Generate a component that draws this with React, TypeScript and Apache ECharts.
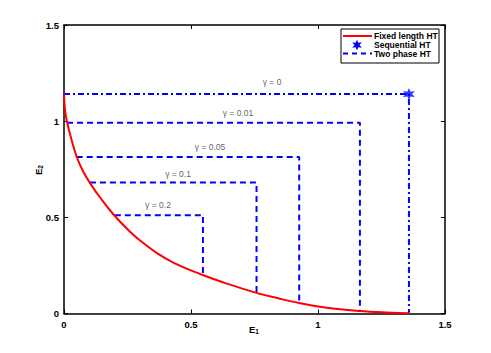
import React, { useEffect, useRef } from "react";
import * as echarts from "echarts";

// Fixed length HT curve (E1, E2)
const curveX = [0, 0.004, 0.013, 0.03, 0.05, 0.076, 0.109, 0.142, 0.194, 0.26, 0.299, 0.365, 0.43, 0.546, 0.627, 0.761, 0.85, 0.926, 1.034, 1.163, 1.27, 1.362];
const curveY = [1.141, 1.058, 0.989, 0.902, 0.815, 0.737, 0.665, 0.603, 0.516, 0.425, 0.38, 0.315, 0.265, 0.2, 0.162, 0.106, 0.077, 0.055, 0.03, 0.013, 0.005, 0.001];

// Two phase HT rectangles for each gamma
const gammaLabels = ["γ = 0", "γ = 0.01", "γ = 0.05", "γ = 0.1", "γ = 0.2"];
const rectY = [1.141, 0.992, 0.814, 0.681, 0.511];
const rectX0 = [0, 0.012, 0.05, 0.102, 0.2];
const rectX1 = [1.358, 1.165, 0.926, 0.758, 0.547];
const rectYEnd = [0, 0.013, 0.055, 0.106, 0.2];

// label anchor positions (data coords)
const labelX = [0.819, 0.685, 0.575, 0.449, 0.37];
const labelY = [1.202, 1.04, 0.864, 0.724, 0.564];

const legendNames = ["Fixed length HT", "Sequential HT", "Two phase HT"];

const FONT = "Liberation Sans, Arial, Helvetica, sans-serif";

function starPoints(cx: number, cy: number, ro: number, ri: number, n: number) {
  const pts: number[][] = [];
  for (let i = 0; i < n * 2; i++) {
    const r = i % 2 === 0 ? ro : ri;
    const a = (Math.PI * i) / n - Math.PI / 2;
    pts.push([cx + r * Math.cos(a), cy + r * Math.sin(a)]);
  }
  return pts;
}

function starPath() {
  const pts = starPoints(10, 10, 10, 4.5, 6);
  return "path://M" + pts.map((p) => p[0].toFixed(2) + "," + p[1].toFixed(2)).join("L") + "Z";
}

export default function App() {
  const ref = useRef<HTMLDivElement>(null);
  useEffect(() => {
    if (!ref.current) return;
    const chart = echarts.init(ref.current, null, { renderer: "svg" });
    const axisCommon = {
      type: "value" as const,
      min: 0,
      max: 1.5,
      interval: 0.5,
      splitLine: { show: false },
      axisLine: { show: true, onZero: false, lineStyle: { color: "#000", width: 1.5 } },
      axisTick: { show: true, inside: true, length: 4, lineStyle: { color: "#000", width: 1 } },
    };
    const tickLabel = { fontSize: 9.5, color: "#000", fontFamily: FONT, fontWeight: "bold" as const };

    const series: any[] = [];
    series.push({
      name: legendNames[0],
      type: "line",
      data: curveX.map((x, i) => [x, curveY[i]]),
      smooth: 0.4,
      showSymbol: false,
      symbol: "none",
      lineStyle: { color: "#ff0000", width: 2 },
      z: 3,
    });
    gammaLabels.forEach((g, i) => {
      series.push({
        name: legendNames[2] + " " + g,
        type: "line",
        data: [
          [rectX0[i], rectY[i]],
          [rectX1[i], rectY[i]],
          [rectX1[i], rectYEnd[i]],
        ],
        symbol: "none",
        lineStyle: {
          color: "#0000ff",
          width: 2,
          type: i === 0 ? [6, 3, 2, 3] : [6, 4],
        },
        z: 2,
      });
    });
    series.push({
      name: legendNames[1],
      type: "scatter",
      data: [[rectX1[0], rectY[0]]],
      symbol: starPath(),
      symbolSize: 12,
      itemStyle: { color: "#0000ff" },
      z: 4,
    });
    series.push({
      name: "labels",
      type: "scatter",
      data: gammaLabels.map((g, i) => ({ value: [labelX[i], labelY[i]], name: g })),
      symbolSize: 0,
      label: {
        show: true,
        position: "inside",
        formatter: (p: any) => p.name,
        fontSize: 8.5,
        color: "#333",
        fontFamily: FONT,
      },
      z: 5,
    });

    const legendX = 341;
    const legendY = 29;
    const rows = [36, 45, 53.5];
    const sp = starPoints(357, rows[1], 5.5, 2.5, 6);

    chart.setOption({
      animation: false,
      backgroundColor: "#fff",
      grid: { left: 64, right: 46, top: 25, bottom: 39.5, containLabel: false },
      xAxis: [
        { ...axisCommon, position: "bottom", axisLabel: { ...tickLabel, margin: 6 } },
        { ...axisCommon, position: "top", axisLabel: { show: false } },
      ],
      yAxis: [
        { ...axisCommon, position: "left", axisLabel: { ...tickLabel, margin: 5 } },
        { ...axisCommon, position: "right", axisLabel: { show: false } },
      ],
      series,
      graphic: [
        {
          type: "text",
          x: 254,
          y: 329,
          style: {
            text: "{e|E}{s|1}",
            align: "center",
            verticalAlign: "middle",
            rich: {
              e: { fontSize: 9.5, fontWeight: "bold", fontFamily: FONT, fill: "#000" },
              s: { fontSize: 6.5, fontWeight: "bold", fontFamily: FONT, fill: "#000", padding: [5, 0, 0, 0] },
            },
          },
        },
        {
          type: "text",
          x: 38,
          y: 170,
          rotation: Math.PI / 2,
          style: {
            text: "{e|E}{s|2}",
            align: "center",
            verticalAlign: "middle",
            rich: {
              e: { fontSize: 9.5, fontWeight: "bold", fontFamily: FONT, fill: "#000" },
              s: { fontSize: 6.5, fontWeight: "bold", fontFamily: FONT, fill: "#000", padding: [5, 0, 0, 0] },
            },
          },
        },
        {
          type: "rect",
          shape: { x: legendX, y: legendY, width: 98, height: 34 },
          style: { fill: "#fff", stroke: "#000", lineWidth: 1 },
          z: 10,
        },
        {
          type: "line",
          shape: { x1: 343, y1: rows[0], x2: 372, y2: rows[0] },
          style: { stroke: "#ff0000", lineWidth: 2 },
          z: 11,
        },
        {
          type: "polygon",
          shape: { points: sp },
          style: { fill: "#0000ff" },
          z: 11,
        },
        {
          type: "line",
          shape: { x1: 343, y1: rows[2], x2: 372, y2: rows[2] },
          style: { stroke: "#0000ff", lineWidth: 2, lineDash: [5, 4] },
          z: 11,
        },
        ...legendNames.map((n, i) => ({
          type: "text",
          x: 374,
          y: rows[i],
          z: 11,
          style: {
            text: n,
            fontSize: 8.5,
            fontWeight: "bold",
            fontFamily: FONT,
            fill: "#000",
            verticalAlign: "middle",
            align: "left",
          },
        })),
      ],
    });
    return () => chart.dispose();
  }, []);
  return <div ref={ref} style={{ width: 491, height: 353, position: "absolute", left: 0, top: 0 }} />;
}
